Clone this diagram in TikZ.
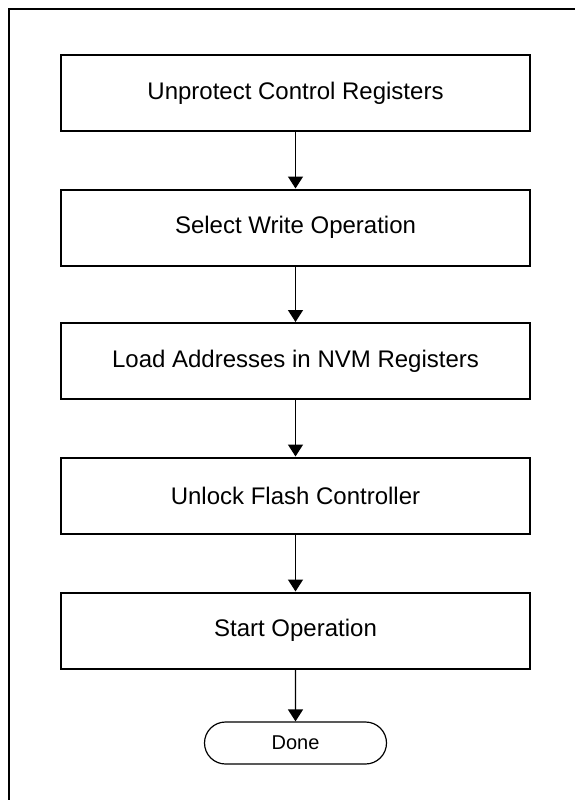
\documentclass[tikz,border=0pt]{standalone}
\usepackage{fontspec}
\setmainfont{Liberation Sans}
\usetikzlibrary{arrows.meta,shapes.misc}
\begin{document}
\begin{tikzpicture}[x=1bp,y=-1bp,
  stepbox/.style={draw,line width=2bp,rectangle,minimum width=469bp,minimum height=76bp,inner sep=0pt,font=\fontsize{24bp}{28bp}\selectfont},
  termbox/.style={draw,line width=1.2bp,rounded rectangle,minimum width=182bp,minimum height=42bp,inner sep=0pt,font=\fontsize{20bp}{24bp}\selectfont},
  flow/.style={line width=1.4bp,-{Triangle[width=15bp,length=12bp]}}]
\useasboundingbox (0,0) rectangle (575,800);
\draw[line width=2bp] (8.5,800) -- (8.5,9) -- (575,9);
\node[stepbox] (s1) at (295.5,93) {Unprotect Control Registers};
\node[stepbox] (s2) at (295.5,227.5) {Select Write Operation};
\node[stepbox] (s3) at (295.5,361) {Load Addresses in NVM Registers};
\node[stepbox] (s4) at (295.5,495.5) {Unlock Flash Controller};
\node[stepbox] (s5) at (295.5,630.5) {Start Operation};
\node[termbox] (done) at (295.5,743) {Done};
\draw[flow] (s1) -- (s2);
\draw[flow] (s2) -- (s3);
\draw[flow] (s3) -- (s4);
\draw[flow] (s4) -- (s5);
\draw[flow] (s5) -- (done);
\end{tikzpicture}
\end{document}
